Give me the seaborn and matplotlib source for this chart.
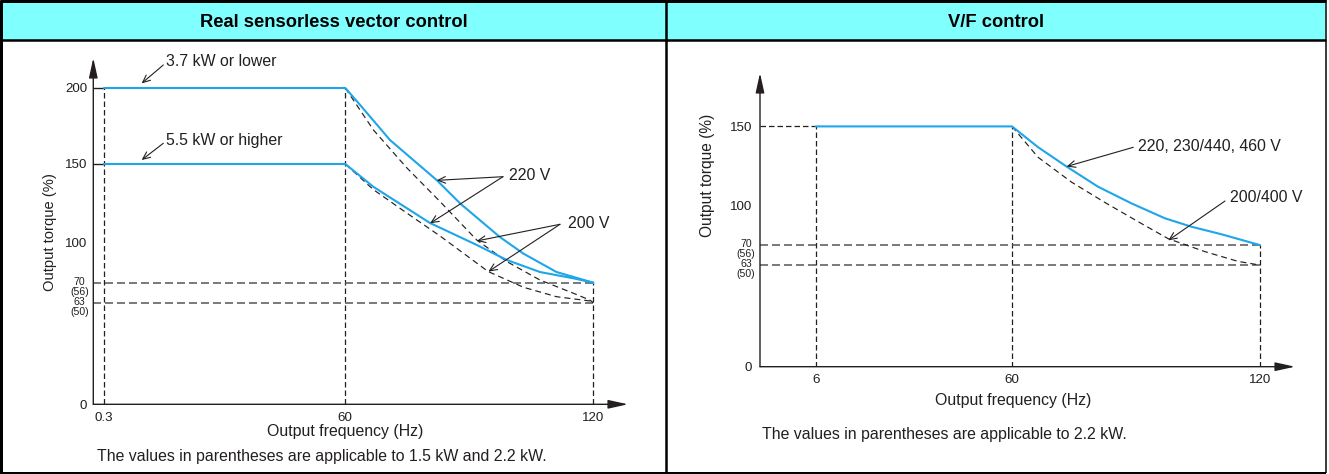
import numpy as np
import pandas as pd
import matplotlib
matplotlib.use("Agg")
import matplotlib.pyplot as plt
from matplotlib.patches import Rectangle
from matplotlib.lines import Line2D
import seaborn as sns

# ---------------- data ----------------
PANEL_TITLES = ["Real sensorless vector control", "V/F control"]

# Real sensorless vector control
SV_FREQ_TICKS = [0.3, 60, 120]
SV_FREQ_TICK_LABELS = ["0.3", "60", "120"]
SV_TORQUE_TICKS = [0, 100, 150, 200]
SV_LOW_KW_220V_HZ = [0.3, 60, 63.6, 70.8, 82.1, 87.8, 97.4, 103.1, 111.1, 120]
SV_LOW_KW_220V = [200, 200, 188.8, 165.8, 139.8, 124.9, 103.6, 91.8, 78.0, 70]
SV_LOW_KW_200V_HZ = [60, 66.8, 74.9, 82.9, 91.8, 99.1, 107.1, 115.2, 119.2, 120]
SV_LOW_KW_200V = [200, 172.4, 147.5, 126.2, 101.7, 85.8, 72.0, 66.3, 63.9, 63]
SV_HIGH_KW_220V_HZ = [0.3, 60, 66.8, 80.5, 91.8, 99.1, 107.1, 115.2, 120]
SV_HIGH_KW_220V = [150, 150, 135.5, 112.5, 98.3, 87.0, 78.0, 73.3, 70]
SV_HIGH_KW_200V_HZ = [60, 66.8, 74.9, 82.9, 94.6, 103.1, 111.1, 119.2, 120]
SV_HIGH_KW_200V = [150, 133.7, 118.8, 104.3, 78.3, 68.4, 65.1, 63.6, 63]

# V/F control
VF_FREQ_TICKS = [6, 60, 120]
VF_FREQ_TICK_LABELS = ["6", "60", "120"]
VF_TORQUE_TICKS = [0, 100, 150]
VF_220V_HZ = [6, 60, 66.3, 73.2, 80.8, 88.9, 97.0, 103.4, 110.7, 120]
VF_220V = [150, 150, 136.8, 124.5, 111.7, 101.1, 90.1, 83.8, 78.1, 70]
VF_200V_HZ = [60, 66.3, 74.4, 82.4, 90.5, 97.8, 106.7, 114.7, 120]
VF_200V = [150, 130.4, 114.6, 101.8, 87.6, 74.8, 67.7, 64.3, 63]

# torque at 120 Hz (220 V / 200 V) and the small-capacity values in parentheses
END_TORQUE = [70, 63]
END_TORQUE_SMALL = ["(56)", "(50)"]

# the diagram is schematic: axis breakpoints -> drawn length (px)
TORQUE_BREAKS = [0, 63, 70, 100, 150, 200]
TORQUE_BREAK_LEN = [0, 101.6, 121.6, 161.6, 240.3, 316.3]
SV_FREQ_BREAKS = [0, 0.3, 60, 120]
SV_FREQ_BREAK_LEN = [0, 10.7, 252, 500]
VF_FREQ_BREAKS = [0, 6, 60, 120]
VF_FREQ_BREAK_LEN = [0, 56, 252, 500]

# ---------------- style ----------------
W, H, DPI = 1329, 474, 100
BLUE = "#1ea6ea"
INK = "#231f20"
GREY = "#555555"
HEADER = "#80ffff"

sns.set_theme(style="white")
plt.rcParams["font.family"] = ["Liberation Sans", "DejaVu Sans"]
plt.rcParams["lines.scale_dashes"] = False
plt.rcParams["text.color"] = INK

fig = plt.figure(figsize=(W / DPI, H / DPI), dpi=DPI)


def px(v):
    return v * 72.0 / DPI


def fpos(x, y):
    return x / W, 1 - y / H


def piecewise(vals, lens):
    v = np.asarray(vals, float)
    p = np.asarray(lens, float)
    lo = (p[1] - p[0]) / (v[1] - v[0])
    hi = (p[-1] - p[-2]) / (v[-1] - v[-2])

    def fwd(x):
        x = np.asarray(x, float)
        y = np.interp(x, v, p)
        y = np.where(x < v[0], p[0] + (x - v[0]) * lo, y)
        return np.where(x > v[-1], p[-1] + (x - v[-1]) * hi, y)

    def inv(y):
        y = np.asarray(y, float)
        x = np.interp(y, p, v)
        x = np.where(y < p[0], v[0] + (y - p[0]) / lo, x)
        return np.where(y > p[-1], v[-1] + (y - p[-1]) / hi, x)

    return fwd, inv


# ---------------- frame & header ----------------
frame = fig.add_axes([0, 0, 1, 1], zorder=-5)
frame.set_xlim(0, W)
frame.set_ylim(H, 0)
frame.axis("off")
frame.add_patch(Rectangle((2, 2), 1323, 38, facecolor=HEADER, edgecolor="none"))
for xs, ys, lw in [
    ([1, 1], [0, 473], 3), ([0, 1326], [1, 1], 3), ([0, 1326], [40, 40], 2.5),
    ([666, 666], [0, 473], 2.5), ([1325.5, 1325.5], [0, 473], 1.5),
    ([0, 1326], [472.5, 472.5], 2),
]:
    frame.add_line(Line2D(xs, ys, color="black", lw=px(lw), solid_capstyle="butt"))
frame.text(333.5, 22, PANEL_TITLES[0], ha="center", va="center",
           fontsize=13.2, fontweight="bold", color="black")
frame.text(996, 22, PANEL_TITLES[1], ha="center", va="center",
           fontsize=13.2, fontweight="bold", color="black")


def make_axes(x0, ybot, w, h, fb, fl):
    ax = fig.add_axes([x0 / W, (H - ybot) / H, w / W, h / H])
    fx, fxi = piecewise(fb, fl)
    fy, fyi = piecewise(TORQUE_BREAKS, TORQUE_BREAK_LEN)
    ax.set_xscale("function", functions=(fx, fxi))
    ax.set_yscale("function", functions=(fy, fyi))
    ax.set_xlim(0, float(fxi(w)))
    ax.set_ylim(0, float(fyi(h)))
    ax.set_facecolor("none")
    for s in ax.spines.values():
        s.set_visible(False)
    arrow = dict(arrowstyle="-|>,head_length=1.0,head_width=0.22", color=INK,
                 lw=1.0, shrinkA=0, shrinkB=0)
    ax.annotate("", xy=(1, 0), xytext=(0, 0), xycoords="axes fraction",
                arrowprops=arrow, annotation_clip=False)
    ax.annotate("", xy=(0, 1), xytext=(0, 0), xycoords="axes fraction",
                arrowprops=arrow, annotation_clip=False)
    ax.minorticks_off()
    return ax


def ref_line(ax, xs, ys, color=INK, dash=(5.5, 3.0), lw=0.9):
    ax.plot(xs, ys, color=color, lw=lw, linestyle=(0, (px(dash[0]), px(dash[1]))),
            dash_capstyle="butt", zorder=1)


def curve(ax, hz, vals, dashed=False):
    df = pd.DataFrame({"hz": hz, "torque": vals})
    if dashed:
        sns.lineplot(data=df, x="hz", y="torque", ax=ax, estimator=None, sort=False,
                     color=INK, lw=0.85, linestyle=(0, (px(6), px(4))), zorder=2)
    else:
        sns.lineplot(data=df, x="hz", y="torque", ax=ax, estimator=None, sort=False,
                     color=BLUE, lw=1.5, zorder=3)
    ax.set_xlabel("")
    ax.set_ylabel("")


def end_labels(ax):
    for lvl, sub in zip(END_TORQUE, END_TORQUE_SMALL):
        ax.annotate(str(lvl), xy=(0, lvl), xycoords=("axes fraction", "data"),
                    xytext=(-10, 0.8), textcoords="offset points",
                    ha="center", va="center", fontsize=7.6)
        ax.annotate(sub, xy=(0, lvl), xycoords=("axes fraction", "data"),
                    xytext=(-10, -6.6), textcoords="offset points",
                    ha="center", va="center", fontsize=7.6)


def pointer(ax, target, tail):
    ax.annotate("", xy=target, xycoords="data",
                xytext=(tail[0], H - tail[1]), textcoords="figure pixels",
                arrowprops=dict(arrowstyle="->,head_length=0.45,head_width=0.2",
                                color=INK, lw=0.8, shrinkA=0, shrinkB=0),
                annotation_clip=False)


# ---------------- Real sensorless vector control ----------------
ax1 = make_axes(93.3, 404.3, 534.7, 346.3, SV_FREQ_BREAKS, SV_FREQ_BREAK_LEN)
top_lo, top_hi = SV_LOW_KW_220V[0], SV_HIGH_KW_220V[0]
f_start, f_base, f_max = SV_FREQ_TICKS
ref_line(ax1, [f_start, f_start], [0, top_lo])
ref_line(ax1, [f_base, f_base], [0, top_lo])
ref_line(ax1, [f_max, f_max], [0, END_TORQUE[0]])
for lvl in END_TORQUE:
    ref_line(ax1, [0, f_max], [lvl, lvl], color=GREY, dash=(8, 4), lw=1.1)
for lvl in (top_lo, top_hi):
    ax1.plot([0, f_start], [lvl, lvl], color=INK, lw=1.0, zorder=1)

curve(ax1, SV_LOW_KW_200V_HZ, SV_LOW_KW_200V, dashed=True)
curve(ax1, SV_HIGH_KW_200V_HZ, SV_HIGH_KW_200V, dashed=True)
curve(ax1, SV_LOW_KW_220V_HZ, SV_LOW_KW_220V)
curve(ax1, SV_HIGH_KW_220V_HZ, SV_HIGH_KW_220V)

ax1.set_xticks(SV_FREQ_TICKS, labels=SV_FREQ_TICK_LABELS)
ax1.set_yticks(SV_TORQUE_TICKS, labels=[str(t) for t in SV_TORQUE_TICKS])
ax1.tick_params(axis="both", length=0, labelsize=9.6, colors=INK)
ax1.tick_params(axis="x", pad=5.8)
ax1.tick_params(axis="y", pad=4.3)
end_labels(ax1)

fig.text(*fpos(165.5, 62), "3.7 kW or lower", fontsize=11.4, ha="left", va="center")
pointer(ax1, (9.6, 203), (163.3, 65))
fig.text(*fpos(165.7, 140), "5.5 kW or higher", fontsize=11.4, ha="left", va="center")
pointer(ax1, (9.6, 152.6), (163.3, 143.3))
fig.text(*fpos(509, 175.7), "220 V", fontsize=11.4, ha="left", va="center")
pointer(ax1, (82.1, 139.6), (503, 176.7))
pointer(ax1, (80.5, 112.3), (503, 176.7))
fig.text(*fpos(568, 223.3), "200 V", fontsize=11.4, ha="left", va="center")
pointer(ax1, (91.8, 101.1), (560, 224.3))
pointer(ax1, (94.6, 78.3), (560, 224.3))

fig.text(*fpos(345, 431.7), "Output frequency (Hz)", fontsize=11.4, ha="center", va="center")
fig.text(*fpos(50, 232.5), "Output torque (%)", fontsize=10.6, ha="center", va="center",
         rotation=90)
fig.text(*fpos(97, 456.7), "The values in parentheses are applicable to 1.5 kW and 2.2 kW.",
         fontsize=11.4, ha="left", va="center")

# ---------------- V/F control ----------------
ax2 = make_axes(760, 366.7, 535, 293.7, VF_FREQ_BREAKS, VF_FREQ_BREAK_LEN)
top = VF_220V[0]
f_start, f_base, f_max = VF_FREQ_TICKS
ref_line(ax2, [f_start, f_start], [0, top])
ref_line(ax2, [f_base, f_base], [0, top])
ref_line(ax2, [f_max, f_max], [0, END_TORQUE[0]])
ref_line(ax2, [0, f_start], [top, top])
for lvl in END_TORQUE:
    ref_line(ax2, [0, f_max], [lvl, lvl], color=GREY, dash=(8, 4), lw=1.1)

curve(ax2, VF_200V_HZ, VF_200V, dashed=True)
curve(ax2, VF_220V_HZ, VF_220V)

ax2.set_xticks(VF_FREQ_TICKS, labels=VF_FREQ_TICK_LABELS)
ax2.set_yticks(VF_TORQUE_TICKS, labels=[str(t) for t in VF_TORQUE_TICKS])
ax2.tick_params(axis="both", length=0, labelsize=9.6, colors=INK)
ax2.tick_params(axis="x", pad=4.9)
ax2.tick_params(axis="y", pad=5.5)
end_labels(ax2)

fig.text(*fpos(1138, 146.7), "220, 230/440, 460 V", fontsize=11.4, ha="left", va="center")
pointer(ax2, (73.2, 124.5), (1133.3, 147.3))
fig.text(*fpos(1230, 197.7), "200/400 V", fontsize=11.4, ha="left", va="center")
pointer(ax2, (97.8, 73.5), (1225, 201))

fig.text(*fpos(1013, 400), "Output frequency (Hz)", fontsize=11.4, ha="center", va="center")
fig.text(*fpos(708, 175), "Output torque (%)", fontsize=11.2, ha="center", va="center",
         rotation=90)
fig.text(*fpos(762, 435), "The values in parentheses are applicable to 2.2 kW.",
         fontsize=11.4, ha="left", va="center")

fig.savefig("out.png", dpi=DPI)
